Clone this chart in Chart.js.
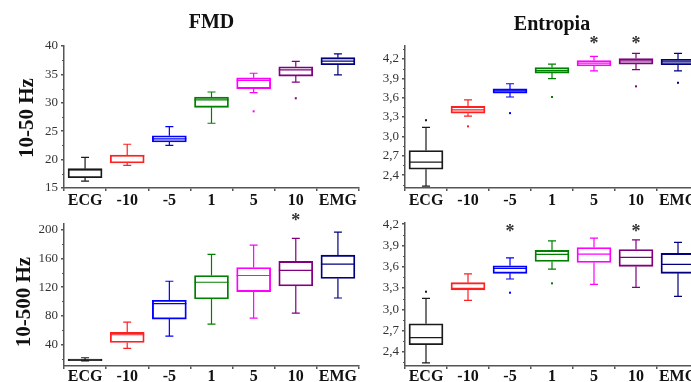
<!DOCTYPE html>
<html>
<head>
<meta charset="utf-8">
<script src="https://cdn.jsdelivr.net/npm/chart.js@4.4.1/dist/chart.umd.min.js"></script>
<style>
  html, body { margin: 0; padding: 0; background: #fff; overflow: hidden; width: 691px; height: 382px; position: relative; }
  canvas { position: absolute; }
  .ytitle { position: absolute; font: bold 21px 'Liberation Serif', serif; color: #111; transform: translate(-50%, -50%) rotate(-90deg); white-space: nowrap; }
</style>
</head>
<body>
<canvas id="fmdLow" width="362" height="212" style="left:0;top:0"></canvas>
<canvas id="entLow" width="345" height="212" style="left:362px;top:0"></canvas>
<canvas id="fmdHigh" width="362" height="180" style="left:0;top:212px"></canvas>
<canvas id="entHigh" width="345" height="180" style="left:362px;top:212px"></canvas>
<div class="ytitle" style="left:26px;top:118px">10-50 Hz</div>
<div class="ytitle" style="left:23px;top:302px">10-500 Hz</div>
<script>
const categories = ['ECG', '-10', '-5', '1', '5', '10', 'EMG'];

// each row: [min, q1, median, q3, max]
const fmdLowBoxes = [
  [16.2, 16.8, 18.2, 18.4, 20.4],
  [19.0, 19.4, 20.7, 20.8, 22.7],
  [22.5, 23.1, 23.65, 24.2, 25.8],
  [26.4, 29.2, 30.5, 31.0, 31.9],
  [31.8, 32.5, 33.95, 34.4, 35.2],
  [33.65, 34.7, 35.8, 36.35, 37.3],
  [34.9, 36.7, 37.35, 37.95, 38.6]
];
const fmdLowOutliers = [null, null, null, null, 28.5, 30.8, null];
const fmdLowStars = [0, 0, 0, 0, 0, 0, 0];
const fmdLowTicks = [15, 20, 25, 30, 35, 40];

const entLowBoxes = [
  [2.23, 2.49, 2.6, 2.78, 3.14],
  [3.315, 3.36, 3.41, 3.465, 3.565],
  [3.61, 3.67, 3.705, 3.735, 3.815],
  [3.895, 3.98, 4.02, 4.065, 4.12],
  [4.015, 4.09, 4.135, 4.175, 4.24],
  [4.035, 4.12, 4.17, 4.205, 4.285],
  [4.015, 4.11, 4.155, 4.195, 4.285]
];
const entLowOutliers = [3.25, 3.155, 3.36, 3.61, null, 3.775, 3.83];
const entLowStars = [0, 0, 0, 0, 1, 1, 0];
const entLowTicks = [2.4, 2.7, 3.0, 3.3, 3.6, 3.9, 4.2];

const fmdHighBoxes = [
  [17, 17.5, 18.5, 19.5, 21.5],
  [34.5, 42.8, 53.6, 56.8, 71.2],
  [51.6, 75.4, 97, 101.6, 128.2],
  [68.4, 103.4, 126.8, 136.2, 165.6],
  [76.8, 113.8, 136.2, 147.4, 178.6],
  [83.8, 121.6, 143.2, 155.8, 188],
  [104.8, 132, 152, 164.6, 196.8]
];
const fmdHighOutliers = [null, null, null, null, null, null, null];
const fmdHighStars = [0, 0, 0, 0, 0, 1, 0];
const fmdHighTicks = [40, 80, 120, 160, 200];

const entHighBoxes = [
  [2.245, 2.5, 2.6, 2.795, 3.155],
  [3.127, 3.272, 3.295, 3.375, 3.5],
  [3.427, 3.507, 3.577, 3.614, 3.726],
  [3.567, 3.675, 3.774, 3.83, 3.966],
  [3.352, 3.661, 3.778, 3.872, 4.003],
  [3.31, 3.605, 3.732, 3.844, 3.98],
  [3.183, 3.507, 3.633, 3.788, 3.943]
];
const entHighOutliers = [3.248, null, 3.234, 3.366, null, null, null];
const entHighStars = [0, 0, 1, 0, 0, 1, 0];
const entHighTicks = [2.4, 2.7, 3.0, 3.3, 3.6, 3.9, 4.2];

const boxColors = ['#1a1a1a', '#ff2020', '#0000ff', '#008000', '#ff00ff', '#800080', '#000080'];
const serif = "'Liberation Serif', 'Times New Roman', serif";
const axisColor = '#555';

// whiskers, medians, outliers, minor ticks and asterisks
const boxExtras = {
  id: 'boxExtras',
  afterDatasetsDraw(chart, args, opts) {
    const { ctx, chartArea } = chart;
    const x = chart.scales.x, y = chart.scales.y;
    const bars = chart.getDatasetMeta(0).data;
    ctx.save();
    opts.rows.forEach((r, i) => {
      const cx = x.getPixelForValue(i);
      const half = bars[i].width / 2;
      const [lo, q1, med, q3, hi] = r.map(v => y.getPixelForValue(v));
      ctx.strokeStyle = boxColors[i];
      ctx.lineWidth = 1.2;
      ctx.beginPath();
      ctx.moveTo(cx, q3); ctx.lineTo(cx, hi);
      ctx.moveTo(cx, q1); ctx.lineTo(cx, lo);
      ctx.moveTo(cx - 4, hi); ctx.lineTo(cx + 4, hi);
      ctx.moveTo(cx - 4, lo); ctx.lineTo(cx + 4, lo);
      ctx.moveTo(cx - half, med); ctx.lineTo(cx + half, med);
      ctx.stroke();
      const o = opts.outliers[i];
      if (o !== null) {
        ctx.fillStyle = boxColors[i];
        ctx.fillRect(cx - 1, y.getPixelForValue(o) - 1, 2, 2);
      }
      if (opts.stars[i]) {
        ctx.fillStyle = '#333';
        ctx.font = 'bold 18px ' + serif;
        ctx.textAlign = 'center';
        ctx.textBaseline = 'alphabetic';
        ctx.fillText('*', cx, y.getPixelForValue(opts.starLevel) + 9);
      }
    });
    // minor ticks on the value axis
    const t = opts.ticks, step = t[1] - t[0];
    const minors = t.map(v => v - step / 2).concat(t[t.length - 1] + step / 2)
      .filter(v => v >= y.min && v <= y.max);
    ctx.strokeStyle = axisColor;
    ctx.lineWidth = 1;
    ctx.beginPath();
    minors.forEach(v => {
      const py = Math.round(y.getPixelForValue(v)) + 0.5;
      ctx.moveTo(chartArea.left, py); ctx.lineTo(chartArea.left - 2, py);
    });
    ctx.stroke();
    ctx.restore();
  }
};

function makePanel(id, p) {
  const ctx = document.getElementById(id).getContext('2d');
  return new Chart(ctx, {
    type: 'bar',
    data: {
      labels: categories,
      datasets: [{
        data: p.rows.map(r => [r[1], r[3]]),
        backgroundColor: 'rgba(255,255,255,0)',
        borderColor: boxColors,
        borderWidth: 1.2,
        borderSkipped: false,
        barThickness: 34
      }]
    },
    options: {
      responsive: false,
      animation: false,
      devicePixelRatio: 1,
      layout: { padding: p.padding },
      plugins: {
        legend: { display: false },
        tooltip: { enabled: false },
        title: {
          display: !!p.title,
          text: p.title,
          fullSize: false,
          color: '#111',
          font: { family: serif, size: 20, weight: 'bold', lineHeight: 1.2 },
          padding: p.titlePadding
        },
        boxExtras: { rows: p.rows, outliers: p.outliers, stars: p.stars, starLevel: p.starLevel, ticks: p.ticks }
      },
      scales: {
        x: {
          type: 'category',
          offset: true,
          grid: { drawOnChartArea: false, tickLength: 3, color: axisColor, lineWidth: 1.5 },
          border: { color: axisColor, width: 1.5 },
          ticks: { font: { family: serif, size: 16, weight: 'bold' }, color: '#111', padding: p.xPad, maxRotation: 0, autoSkip: false },
          afterFit: s => { s.height = 22; }
        },
        y: {
          min: p.min,
          max: p.max,
          grid: { drawOnChartArea: false, tickLength: 3, color: axisColor, lineWidth: 1.5 },
          border: { color: axisColor, width: 1.5 },
          ticks: {
            font: { family: serif, size: 13 },
            color: '#333',
            padding: 3,
            callback: v => p.comma ? v.toFixed(1).replace('.', ',') : String(v)
          },
          afterBuildTicks: s => { s.ticks = p.ticks.map(v => ({ value: v })); },
          afterFit: s => { s.width = p.yWidth; }
        }
      }
    },
    plugins: [boxExtras]
  });
}

makePanel('fmdLow', {
  rows: fmdLowBoxes, outliers: fmdLowOutliers, stars: fmdLowStars, starLevel: 42, ticks: fmdLowTicks,
  min: 15, max: 40, comma: false, title: 'FMD', titlePadding: { top: 11, bottom: 11 },
  padding: { left: 0, top: 0, right: 3, bottom: 2 }, yWidth: 64, xPad: 0
});
makePanel('entLow', {
  rows: entLowBoxes, outliers: entLowOutliers, stars: entLowStars, starLevel: 4.495, ticks: entLowTicks,
  min: 2.2, max: 4.4, comma: true, title: 'Entropia', titlePadding: { top: 13, bottom: 9 },
  padding: { left: 0, top: 0, right: 8, bottom: 2 }, yWidth: 43, xPad: 0
});
makePanel('fmdHigh', {
  rows: fmdHighBoxes, outliers: fmdHighOutliers, stars: fmdHighStars, starLevel: 217.4, ticks: fmdHighTicks,
  min: 10, max: 208, comma: false, title: '', titlePadding: 0,
  padding: { left: 0, top: 12, right: 3, bottom: 4 }, yWidth: 64, xPad: -2
});
makePanel('entHigh', {
  rows: entHighBoxes, outliers: entHighOutliers, stars: entHighStars, starLevel: 4.148, ticks: entHighTicks,
  min: 2.2, max: 4.22, comma: true, title: '', titlePadding: 0,
  padding: { left: 0, top: 10, right: 8, bottom: 4 }, yWidth: 43, xPad: -2
});
</script>
</body>
</html>
